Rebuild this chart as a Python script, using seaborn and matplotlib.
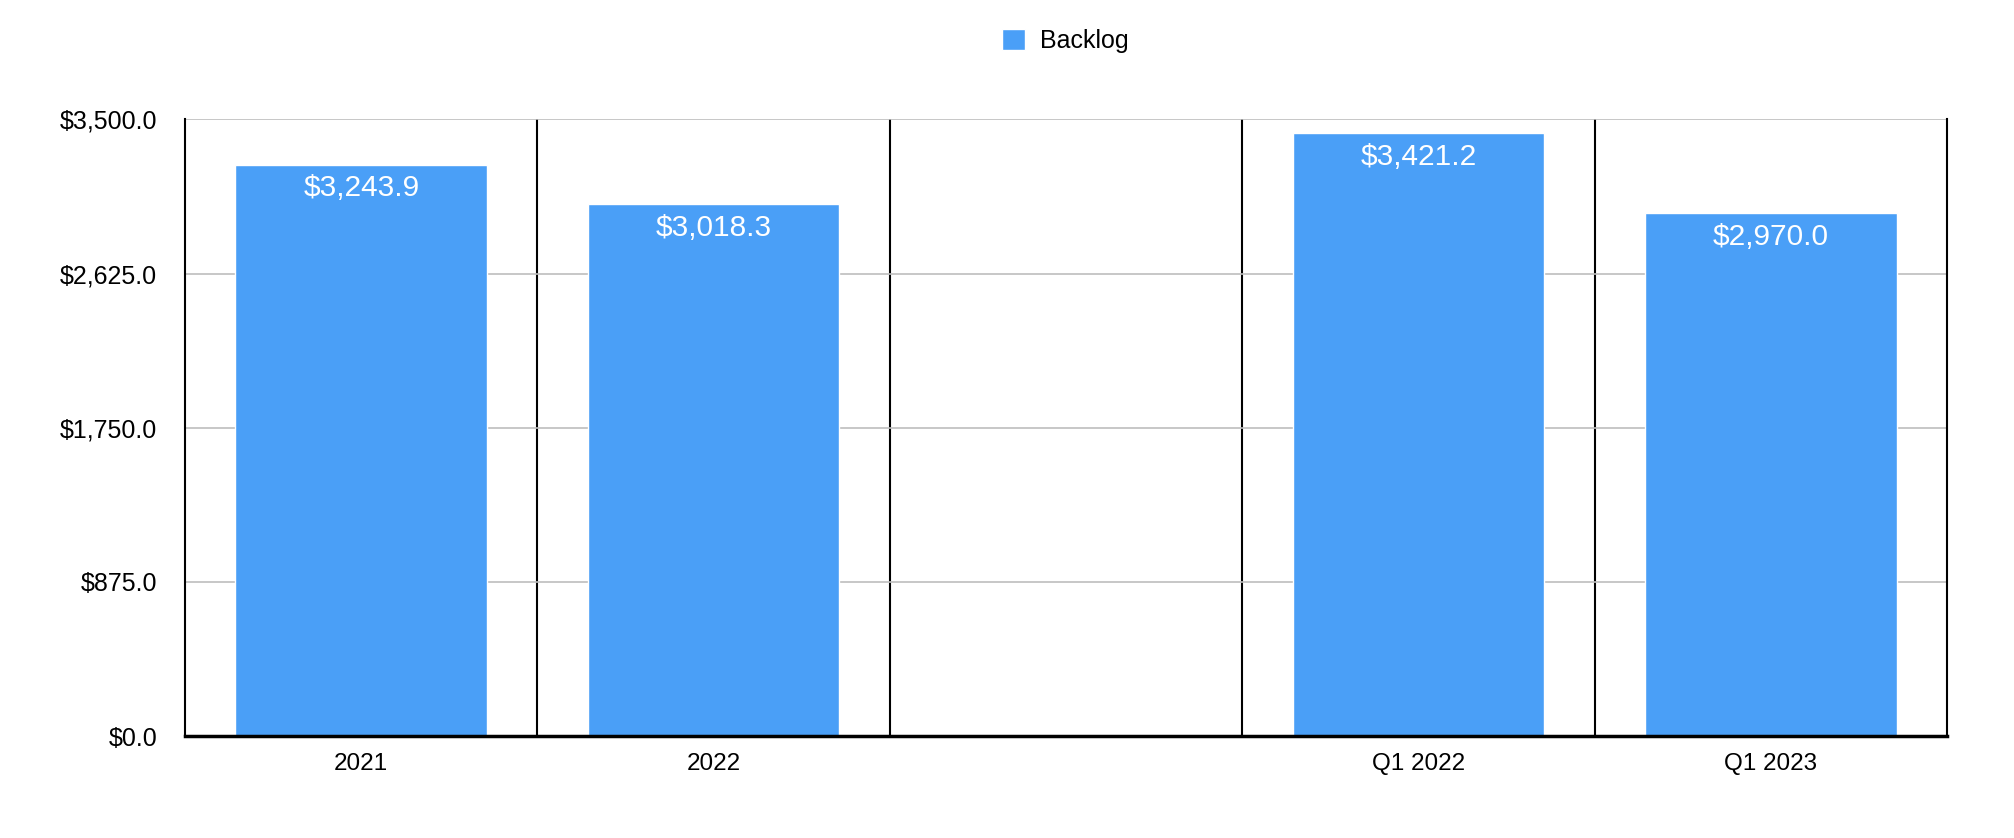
"""
Backlog by period - bar chart with value labels
"""

import pandas as pd
import numpy as np
import matplotlib
matplotlib.use('Agg')
import matplotlib.pyplot as plt
import seaborn as sns

# Data
periods = ['2021', '2022', '', 'Q1 2022', 'Q1 2023']
backlog = [3243.9, 3018.3, np.nan, 3421.2, 2970.0]
y_ticks = [0, 875, 1750, 2625, 3500]

df = pd.DataFrame({'Period': periods, 'Backlog': backlog})

sns.set_style('white')
plt.rcParams['font.family'] = ['Liberation Sans', 'DejaVu Sans']
plt.rcParams['text.color'] = 'black'
plt.rcParams['xtick.color'] = 'black'
plt.rcParams['ytick.color'] = 'black'

BAR_COLOR = '#4A9FF7'

fig = plt.figure(figsize=(20.14, 8.38), dpi=100)
ax = fig.add_axes([0.0919, 0.1217, 0.9667 - 0.0919, 0.8574 - 0.1217])

sns.barplot(data=df, x='Period', y='Backlog', order=periods, color=BAR_COLOR,
            width=0.714, saturation=1, label='Backlog', ax=ax)

# Value labels inside bar tops
for i, val in enumerate(backlog):
    if np.isnan(val):
        continue
    ax.annotate(f'${val:,.1f}', xy=(i, val), xytext=(0, -7), textcoords='offset points',
                ha='center', va='top', color='white', fontsize=21.5)

ax.set_xlim(-0.5, len(periods) - 0.5)
ax.set_ylim(0, 3500)
ax.set_yticks(y_ticks)
ax.set_yticklabels([f'${v:,.1f}' for v in y_ticks])
ax.set_xlabel('')
ax.set_ylabel('')

# Horizontal gridlines and vertical category separators
ax.yaxis.grid(True, color='#BDBDBD', linewidth=1.2)
ax.xaxis.grid(False)
ax.set_axisbelow(True)
for x in np.arange(0.5, len(periods) - 0.5, 1):
    ax.axvline(x, color='black', linewidth=1.5, zorder=0.5)

for side in ['left', 'right']:
    ax.spines[side].set_visible(True)
    ax.spines[side].set_color('black')
    ax.spines[side].set_linewidth(1.5)
ax.spines['top'].set_visible(False)
ax.spines['bottom'].set_color('black')
ax.spines['bottom'].set_linewidth(2.5)

ax.tick_params(axis='y', length=0, pad=20, labelsize=18, labelcolor='black')
ax.tick_params(axis='x', length=0, pad=12, labelsize=17.5, labelcolor='black')

ax.legend(loc='center', bbox_to_anchor=(0.529, 0.951), bbox_transform=fig.transFigure,
          frameon=False, fontsize=18, handlelength=0.9, handleheight=0.9, handletextpad=0.6,
          labelcolor='black')

plt.savefig('out.png', dpi=100)
plt.close()
